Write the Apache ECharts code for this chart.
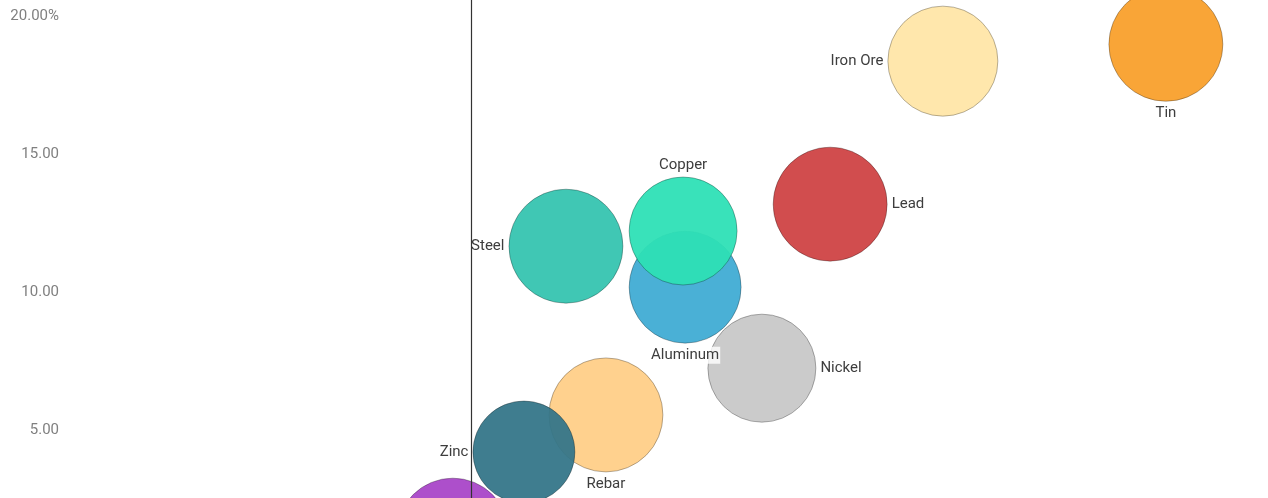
<!DOCTYPE html>
<html>
<head>
<meta charset="utf-8">
<script src="https://cdn.jsdelivr.net/npm/echarts@6/dist/echarts.min.js"></script>
<style>
html,body{margin:0;padding:0;background:#fff;}
#chart{width:1268px;height:498px;}
</style>
</head>
<body>
<div id="chart"></div>
<script>
var names   = ['Iron Ore','Tin','Lead','Steel','Aluminum','Copper','Nickel','Rebar','Zinc','Gold'];
var xValues = [11.68, 17.20, 8.89, 2.35, 5.30, 5.25, 7.20, 3.34, 1.31, -0.45];
var yValues = [18.36, 18.97, 13.19, 11.67, 10.19, 12.22, 7.26, 5.57, 4.23, 1.26];
var sizes   = [55, 57, 57, 57, 56, 54, 54, 57, 51, 56];
var colors  = ['#FFE6A8','#F9A02C','#CF4345','#36C4B0','#40ACD4','#2EE0B6','#C8C8C8','#FFCF88','#357689','#A946C8'];
var labelPos = ['left','bottom','right','left','bottom','top','right','bottom','left','bottom'];
var yTicks = [0, 5, 10, 15, 20];

var data = names.map(function (n, i) {
  return {
    name: n,
    value: [xValues[i], yValues[i], sizes[i]],
    itemStyle: { color: colors[i] },
    label: { position: labelPos[i] }
  };
});

var chart = echarts.init(document.getElementById('chart'));
chart.setOption({
  animation: false,
  textStyle: { fontFamily: 'Roboto' },
  grid: { left: 67, right: -11, top: 0, bottom: -71, outerBoundsMode: 'none', containLabel: false },
  xAxis: { type: 'value', min: -10, max: 20, show: false },
  yAxis: {
    type: 'value', min: 0, max: 20.57, interval: 5,
    axisLine: { show: false }, axisTick: { show: false }, splitLine: { show: false },
    axisLabel: {
      color: '#808080', fontSize: 15, fontFamily: 'Roboto', margin: 8,
      formatter: function (v) {
        if (yTicks.indexOf(v) < 0) return '';
        return v === 20 ? v.toFixed(2) + '%' : v.toFixed(2);
      }
    }
  },
  series: [{
    type: 'scatter',
    clip: false,
    data: data,
    symbolSize: function (val) { return val[2] * 2; },
    itemStyle: { opacity: 0.95, borderColor: 'rgba(0,0,0,0.3)', borderWidth: 1 },
    label: {
      show: true, formatter: '{b}', color: '#333', fontSize: 15, fontFamily: 'Roboto',
      distance: 3, backgroundColor: 'rgba(255,255,255,0.85)', padding: [1, 1]
    },
    markLine: {
      silent: true, symbol: 'none', animation: false,
      label: { show: false },
      lineStyle: { color: '#333', width: 1.2, type: 'solid' },
      data: [{ xAxis: 0 }]
    }
  }]
});
</script>
</body>
</html>
